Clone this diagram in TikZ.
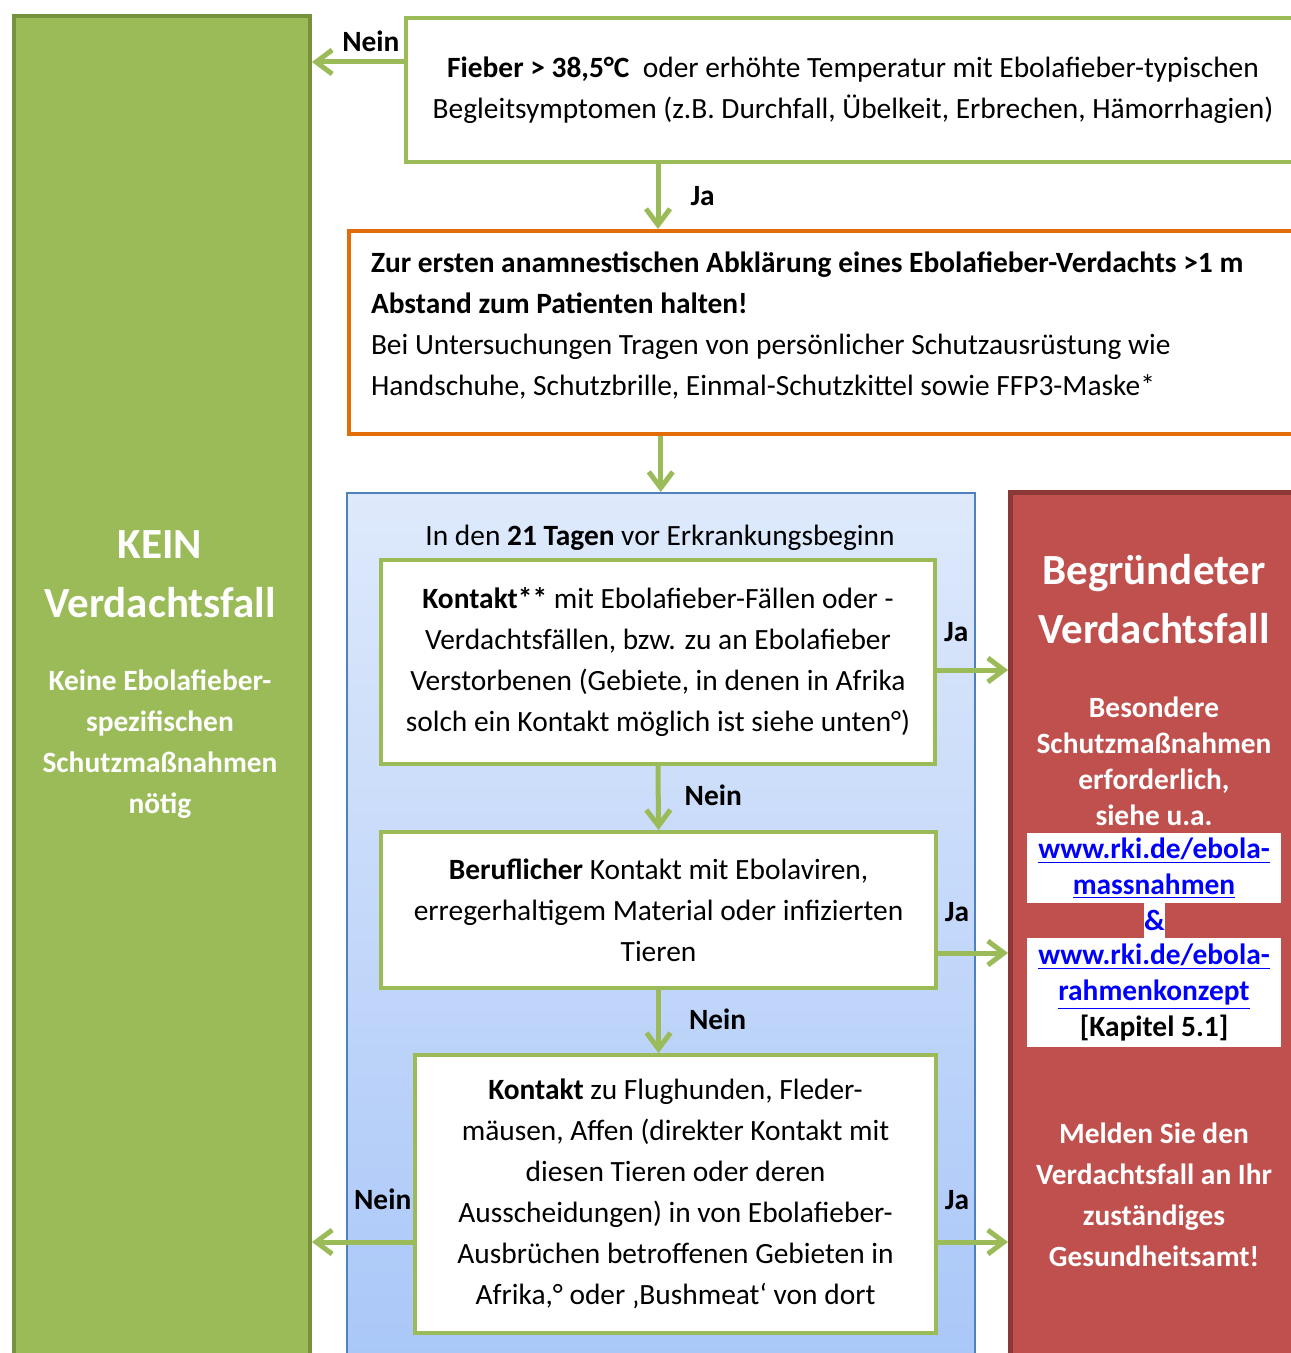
\documentclass[tikz,border=0pt]{standalone}
\usepackage{fontspec}
\setmainfont{Carlito}
\usepackage{tikz}
\usetikzlibrary{arrows.meta,positioning}
\definecolor{ebgreen}{RGB}{155,187,89}
\definecolor{ebgreendark}{RGB}{118,146,60}
\definecolor{eborange}{RGB}{227,108,9}
\definecolor{ebred}{RGB}{192,80,77}
\definecolor{ebreddark}{RGB}{140,56,54}
\definecolor{ebblue}{RGB}{79,129,189}
\definecolor{ebbluetop}{RGB}{222,233,251}
\definecolor{ebbluebot}{RGB}{166,197,248}
\definecolor{eblink}{RGB}{0,0,255}
\newcommand{\ebtext}{\fontsize{14.7}{20.5}\selectfont}
\newcommand{\ebtight}{\fontsize{14.7}{18}\selectfont}
\newcommand{\ebhead}{\fontsize{21.5}{29.5}\selectfont}
\newcommand{\ebl}[1]{\textcolor{eblink}{\underline{#1}}}

\begin{document}
\begin{tikzpicture}[
        x=0.5pt, y=-0.5pt,
        % boxes are anchored at their upper left corner
        frame/.style={rectangle, draw=#1, line width=2pt, fill=white, text=black,
            inner sep=0pt, anchor=north west, align=center, font=\ebtext},
        flow/.style={-{Straight Barb[length=8pt,width=12pt]}, line width=2.5pt, draw=ebgreen},
        lbl/.style={font=\ebtext\bfseries, inner sep=0pt, text=black},
        weiss/.style={text=white, font=\ebtext\bfseries, align=center, inner sep=0pt},
        linkbox/.style={fill=white, inner sep=0pt, minimum width=127pt, align=center,
            font=\ebtight\bfseries}
    ]
        \useasboundingbox (0,0) rectangle (1290,1353);

        % left column
        \node[rectangle, draw=ebgreendark, fill=ebgreen, line width=2pt, anchor=north west,
            minimum width=148pt, minimum height=700pt, inner sep=0pt] (kein) at (12,14) {};
        \node[weiss, font=\ebhead\bfseries] (keinkopf) at (160,574) {KEIN\\Verdachtsfall};
        \node[weiss] (keintext) at (160,744) {Keine Ebolafieber-\\spezifischen\\Schutzmaßnahmen\\nötig};

        % questions
        \node[frame=ebgreen, minimum width=447pt, minimum height=72pt] (fieber) at (404,16)
            {\textbf{Fieber > 38,5°C}\ \ oder erhöhte Temperatur mit Ebolafieber-typischen\\Begleitsymptomen (z.B. Durchfall, Übelkeit, Erbrechen, Hämorrhagien)};
        \node[frame=eborange, align=flush left, text width=453.5pt, inner xsep=11pt, minimum height=101.5pt] (abstand) at (347,229)
            {\textbf{Zur ersten anamnestischen Abklärung eines Ebolafieber-Verdachts >1 m}\\\textbf{Abstand zum Patienten halten!}\\Bei Untersuchungen Tragen von persönlicher Schutzausrüstung wie\\Handschuhe, Schutzbrille, Einmal-Schutzkittel sowie FFP3-Maske*\\[-12pt]\mbox{}};

        \node[rectangle, draw=ebblue, line width=0.75pt, top color=ebbluetop, bottom color=ebbluebot,
            anchor=north west, minimum width=314pt, minimum height=460pt, inner sep=0pt] (panel) at (346,492) {};
        \node[font=\ebtext, inner sep=0pt] (zeitraum) at (660,538) {In den \textbf{21 Tagen} vor Erkrankungsbeginn};

        \node[frame=ebgreen, minimum width=277pt, minimum height=102pt] (kontakt) at (379,558)
            {\textbf{Kontakt**} mit Ebolafieber-Fällen oder -\\Verdachtsfällen, bzw. zu an Ebolafieber\\Verstorbenen (Gebiete, in denen in Afrika\\solch ein Kontakt möglich ist siehe unten°)};
        \node[frame=ebgreen, minimum width=277.5pt, minimum height=78pt] (beruf) at (379,830)
            {\textbf{Beruflicher} Kontakt mit Ebolaviren,\\erregerhaltigem Material oder infizierten\\Tieren};
        \node[frame=ebgreen, minimum width=260.5pt, minimum height=139pt] (tiere) at (413,1053)
            {\textbf{Kontakt} zu Flughunden, Fleder-\\mäusen, Affen (direkter Kontakt mit\\diesen Tieren oder deren\\Ausscheidungen) in von Ebolafieber-\\Ausbrüchen betroffenen Gebieten in\\Afrika,° oder ‚Bushmeat‘ von dort};

        % right column
        \node[rectangle, draw=ebreddark, fill=ebred, line width=2.5pt, anchor=north west,
            minimum width=146pt, minimum height=455pt, inner sep=0pt] (verdacht) at (1008,490) {};
        \node[weiss, font=\ebhead\bfseries] (verdachtkopf) at (1154,599) {Begründeter\\Verdachtsfall};
        \node[weiss, font=\ebtight\bfseries] (verdachttext) at (1154,761) {Besondere\\Schutzmaßnahmen\\erforderlich,\\siehe u.a.};
        \node[linkbox, minimum height=35pt] (link1) at (1154,868) {\ebl{www.rki.de/ebola-}\\\ebl{massnahmen}};
        \node[fill=white, inner sep=0pt, minimum width=10.5pt, minimum height=17.5pt,
            font=\ebtext\bfseries, text=eblink] (und) at (1154.5,920.5) {\&};
        \node[linkbox, minimum height=54.5pt] (link2) at (1154,992.5) {\ebl{www.rki.de/ebola-}\\\ebl{rahmenkonzept}\\{[Kapitel 5.1]}};
        \node[weiss] (melden) at (1154,1195) {Melden Sie den\\Verdachtsfall an Ihr\\zuständiges\\Gesundheitsamt!};

        % Connections
        \coordinate (fnein) at ([yshift=14pt]fieber.west);
        \draw[flow] (fnein) -- (fnein -| kein.east) node[lbl, pos=0.36, above=4pt] {Nein};
        \draw[flow] (fieber.south -| kontakt.north) -- (abstand.north -| kontakt.north)
            node[lbl, midway, right=15pt] {Ja};
        \draw[flow] (abstand.south -| panel.north) -- (panel.north);
        \draw[flow] (kontakt.south) -- (beruf.north) node[lbl, pos=0.45, right=12pt] {Nein};
        \draw[flow] (beruf.south) -- (beruf.south |- tiere.north) node[lbl, pos=0.47, right=14pt] {Nein};
        \coordinate (tnein) at ([yshift=-24pt]tiere.west);
        \draw[flow] (tnein) -- (tnein -| kein.east) node[lbl, pos=0.30, above=15pt] {Nein};

        \coordinate (kja) at ([yshift=-4pt]kontakt.east);
        \draw[flow] (kja) -- (kja -| verdacht.west) node[lbl, pos=0.27, above=13pt] {Ja};
        \coordinate (bja) at ([yshift=-21.5pt]beruf.east);
        \draw[flow] (bja) -- (bja -| verdacht.west) node[lbl, pos=0.27, above=14.5pt] {Ja};
        \coordinate (tja) at ([yshift=-24pt]tiere.east);
        \draw[flow] (tja) -- (tja -| verdacht.west) node[lbl, pos=0.27, above=15pt] {Ja};
    \end{tikzpicture}
\end{document}
